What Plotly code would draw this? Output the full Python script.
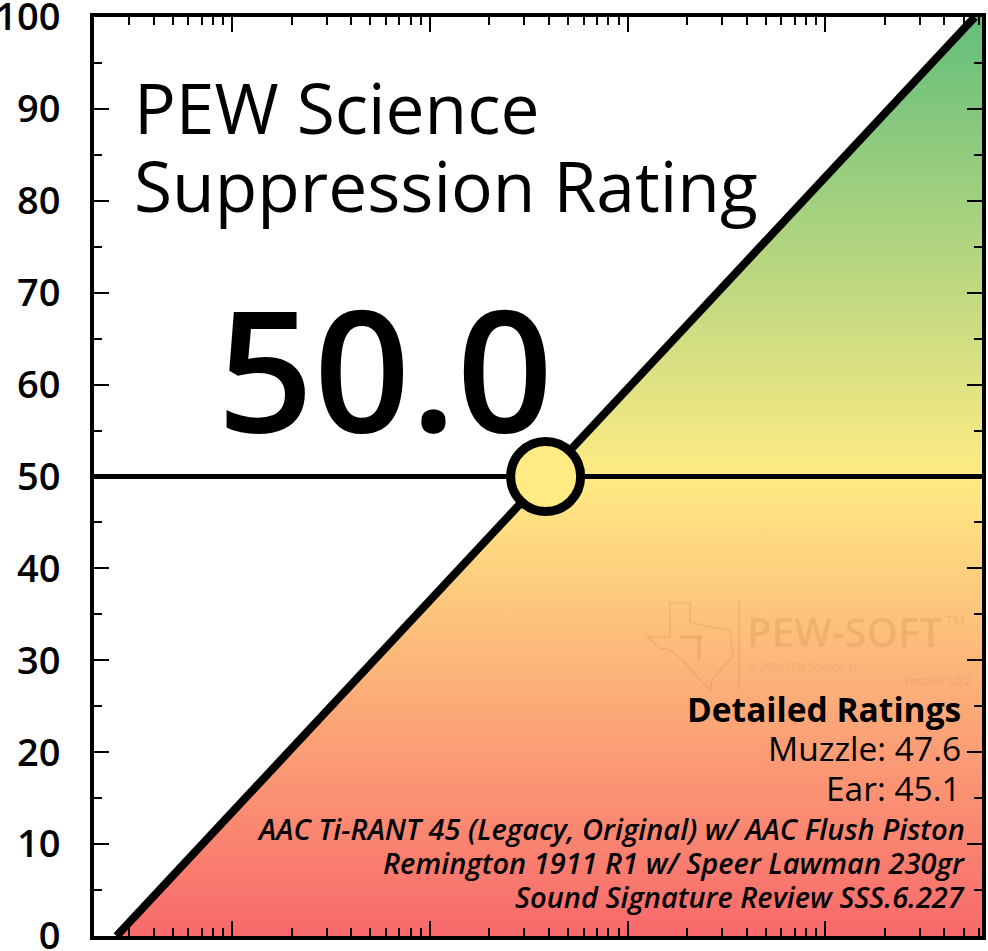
import numpy as np
import plotly.graph_objects as go

# --- data ---
RATING = 50.0
MUZZLE = 47.6
EAR = 45.1
SUPPRESSOR = "AAC Ti-RANT 45 (Legacy, Original) w/ AAC Flush Piston"
HOST = "Remington 1911 R1 w/ Speer Lawman 230gr"
REVIEW = "Sound Signature Review SSS.6.227"

X_RANGE = [2, 62000]            # log axis, no labels shown
DIAG_X = [2.6, 57000]           # rating diagonal, bottom -> top
DIAG_Y = [0, 100]
Y_TICKS = list(range(0, 101, 10))

RED, YELLOW, GREEN = "#F8696B", "#FFEB84", "#63BE7B"

W, H = 988, 951
L, R, T, B = 94, 6, 17, 15
PW, PH = W - L - R, H - T - B


def px(x):
    return (x - L) / PW


def py(y):
    return (H - B - y) / PH


# x where the diagonal crosses the rating (diagonal is straight in log-x)
lx = np.log10(DIAG_X)
mark_x = 10 ** (lx[0] + (lx[1] - lx[0]) * (RATING - DIAG_Y[0]) / (DIAG_Y[1] - DIAG_Y[0]))

fig = go.Figure()

# gradient area right of the diagonal
fig.add_trace(go.Scatter(
    x=[DIAG_X[0], X_RANGE[1], X_RANGE[1], DIAG_X[1]],
    y=[DIAG_Y[0], DIAG_Y[0], DIAG_Y[1], DIAG_Y[1]],
    mode="none", fill="toself",
    fillgradient=dict(type="vertical", start=0, stop=100,
                      colorscale=[[0, RED], [0.5, YELLOW], [1, GREEN]]),
    hoverinfo="skip", showlegend=False))

# rating line
fig.add_trace(go.Scatter(x=X_RANGE, y=[RATING, RATING], mode="lines",
                         line=dict(color="black", width=5),
                         hoverinfo="skip", showlegend=False))
# diagonal
fig.add_trace(go.Scatter(x=DIAG_X, y=DIAG_Y, mode="lines",
                         line=dict(color="black", width=8),
                         hoverinfo="skip", showlegend=False))
# marker
fig.add_trace(go.Scatter(x=[mark_x], y=[RATING], mode="markers",
                         marker=dict(size=70, color=YELLOW,
                                     line=dict(color="black", width=9)),
                         hoverinfo="skip", showlegend=False))

font = "Open Sans"
ann = []
ann.append(dict(x=px(132), y=py(107), text="PEW Science", xanchor="left", yanchor="middle",
                font=dict(family=font, size=69.5, color="black", weight=500)))
ann.append(dict(x=px(132), y=py(185), text="Suppression Rating", xanchor="left", yanchor="middle",
                font=dict(family=font, size=69.5, color="black", weight=500)))
ann.append(dict(x=px(385), y=py(366), text=f"{RATING:.1f}", xanchor="center", yanchor="middle",
                font=dict(family=font, size=169, color="black", weight=600)))

right = px(963)
ann.append(dict(x=right, y=py(709), text="Detailed Ratings", xanchor="right", yanchor="middle",
                font=dict(family=font, size=33.5, color="black", weight="bold")))
ann.append(dict(x=right, y=py(748), text=f"Muzzle: {MUZZLE:.1f}", xanchor="right", yanchor="middle",
                font=dict(family=font, size=33.5, color="black")))
ann.append(dict(x=right, y=py(788), text=f"Ear: {EAR:.1f}", xanchor="right", yanchor="middle",
                font=dict(family=font, size=33.5, color="black")))
for i, line in enumerate([SUPPRESSOR, HOST, REVIEW]):
    ann.append(dict(x=px(967), y=py(828 + 34 * i), text=line, xanchor="right", yanchor="middle",
                    font=dict(family=font, size=29, color="black", style="italic", weight=600)))

# faint PEW-SOFT watermark
wm = "rgba(170,100,40,0.16)"
ann.append(dict(x=px(745), y=py(631), text="PEW-SOFT", xanchor="left", yanchor="middle",
                font=dict(family=font, size=40, color=wm, weight=600)))
ann.append(dict(x=px(943), y=py(620), text="TM", xanchor="left", yanchor="middle",
                font=dict(family=font, size=14, color=wm)))
ann.append(dict(x=px(747), y=py(667), text="© 2020 PEW Science, LLC", xanchor="left", yanchor="middle",
                font=dict(family=font, size=10, color=wm)))
ann.append(dict(x=px(973), y=py(680), text="Version 1.0.2", xanchor="right", yanchor="middle",
                font=dict(family=font, size=11, color=wm, weight=600)))
for a in ann:
    a.update(xref="paper", yref="paper", showarrow=False)

texas = [(670, 603), (690, 603), (690, 622), (705, 626), (730, 630), (733, 657),
         (722, 668), (712, 680), (710, 690), (697, 677), (683, 660), (670, 650),
         (660, 648), (647, 637), (670, 637), (670, 603)]
path = "M " + " L ".join(f"{px(a):.4f},{py(b):.4f}" for a, b in texas) + " Z"
shapes = [
    dict(type="path", path=path, xref="paper", yref="paper",
         line=dict(color=wm, width=1.5)),
    dict(type="line", xref="paper", yref="paper", x0=px(739), x1=px(739), y0=py(600), y1=py(690),
         line=dict(color=wm, width=1.5)),
    dict(type="line", xref="paper", yref="paper", x0=px(679), x1=px(702), y0=py(637), y1=py(637),
         line=dict(color=wm, width=3)),
    dict(type="line", xref="paper", yref="paper", x0=px(699), x1=px(699), y0=py(637), y1=py(660),
         line=dict(color=wm, width=3)),
]

axis_common = dict(showline=True, linecolor="black", linewidth=4, mirror="allticks",
                   ticks="inside", tickcolor="black", ticklen=15, tickwidth=2,
                   showgrid=False, zeroline=False, fixedrange=True, automargin=False)

fig.update_xaxes(type="log", range=[np.log10(X_RANGE[0]), np.log10(X_RANGE[1])],
                 dtick=1, showticklabels=False,
                 minor=dict(ticks="inside", ticklen=8, tickwidth=2, tickcolor="black", dtick="D1"),
                 **axis_common)
fig.update_yaxes(range=[0, 100], tickvals=Y_TICKS, ticklabelstandoff=22,
                 ticklabeloverflow="allow",
                 tickfont=dict(family=font, size=38, color="black", weight=600),
                 minor=dict(ticks="inside", ticklen=8, tickwidth=2, tickcolor="black", dtick=5),
                 **axis_common)

fig.update_layout(width=W, height=H, margin=dict(l=L, r=R, t=T, b=B),
                  paper_bgcolor="white", plot_bgcolor="white",
                  annotations=ann, shapes=shapes, showlegend=False)

fig.write_html("out.html", config={"displayModeBar": False},
               post_script="document.body.style.margin='0';document.body.style.overflow='hidden';")
